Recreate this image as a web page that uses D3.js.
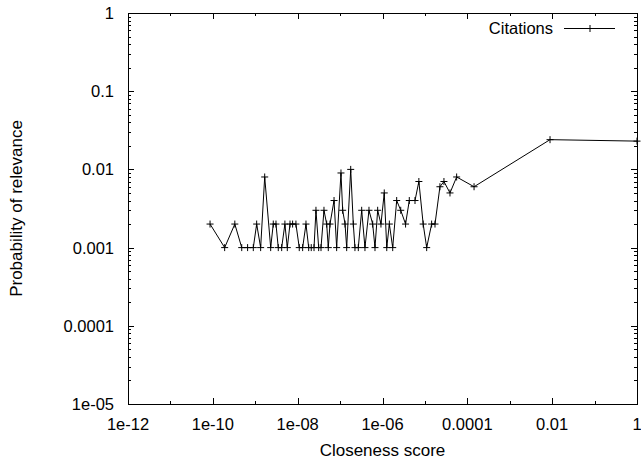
<!DOCTYPE html>
<html>
<head>
<meta charset="utf-8">
<script src="https://cdn.jsdelivr.net/npm/d3@7"></script>
<style>
  body { margin: 0; background: #fff; }
  text { font-family: "Liberation Sans", Arial, sans-serif; fill: #000; }
</style>
</head>
<body>
<svg id="chart" width="641" height="460"></svg>
<script>
// closeness score (x) and probability of relevance (y)
const closeness = [
  8.6e-11, 1.9e-10, 3.3e-10, 4.8e-10, 6.6e-10, 9.0e-10, 1.08e-9, 1.34e-9, 1.67e-9, 2.31e-9,
  2.66e-9, 3.08e-9, 3.49e-9, 4.2e-9, 5.0e-9, 5.7e-9, 6.6e-9, 7.6e-9, 9.1e-9, 1.09e-8,
  1.31e-8, 1.57e-8, 1.82e-8, 2.09e-8, 2.43e-8, 2.7e-8, 3.13e-8, 3.55e-8, 4.17e-8, 4.83e-8,
  5.27e-8, 5.78e-8, 7.2e-8, 8.3e-8, 1.05e-7, 1.15e-7, 1.31e-7, 1.43e-7, 1.78e-7, 2.05e-7,
  2.24e-7, 2.69e-7, 3.23e-7, 3.86e-7, 4.8e-7, 5.87e-7, 6.65e-7, 7.69e-7, 9.2e-7, 1.1e-6,
  1.26e-6, 1.45e-6, 1.74e-6, 2.16e-6, 2.69e-6, 3.5e-6, 4.28e-6, 5.84e-6, 7.2e-6, 9.1e-6,
  1.1e-5, 1.44e-5, 1.73e-5, 2.26e-5, 2.81e-5, 3.9e-5, 5.6e-5, 1.44e-4, 8.9e-3, 1
]
const relevance = [
  0.002, 0.001, 0.002, 0.001, 0.001, 0.001, 0.002, 0.001, 0.008, 0.001,
  0.002, 0.002, 0.001, 0.001, 0.002, 0.001, 0.002, 0.002, 0.002, 0.001,
  0.001, 0.002, 0.001, 0.001, 0.001, 0.003, 0.001, 0.001, 0.003, 0.002,
  0.001, 0.002, 0.004, 0.001, 0.009, 0.003, 0.002, 0.001, 0.01, 0.002,
  0.001, 0.001, 0.003, 0.001, 0.003, 0.002, 0.001, 0.003, 0.002, 0.005,
  0.001, 0.002, 0.001, 0.004, 0.003, 0.002, 0.004, 0.004, 0.007, 0.002,
  0.001, 0.002, 0.002, 0.006, 0.007, 0.005, 0.008, 0.006, 0.024, 0.023
]

const xTickValues = [1e-12, 1e-10, 1e-8, 1e-6, 1e-4, 1e-2, 1]
const xTickLabels = ['1e-12', '1e-10', '1e-08', '1e-06', '0.0001', '0.01', '1']
const yTickValues = [1e-5, 1e-4, 1e-3, 1e-2, 1e-1, 1]
const yTickLabels = ['1e-05', '0.0001', '0.001', '0.01', '0.1', '1']

const plotLeft = 128, plotRight = 637, plotTop = 13, plotBottom = 404

const svg = d3.select('#chart')

const x = d3.scaleLog().domain([1e-12, 1]).range([plotLeft, plotRight])
const y = d3.scaleLog().domain([1e-5, 1]).range([plotBottom, plotTop])

// minor ticks
let xMinor = []
for (let e = -11; e < 0; e += 2) xMinor.push(Math.pow(10, e))
let yMinor = []
for (let e = -5; e < 0; e++) {
  for (let m = 2; m <= 9; m++) yMinor.push(m * Math.pow(10, e))
}

const ticks = svg.append('g').attr('stroke', '#000').attr('stroke-width', 1)

xTickValues.forEach(v => {
  let px = Math.round(x(v)) + 0.5
  ticks.append('line').attr('x1', px).attr('x2', px).attr('y1', plotBottom).attr('y2', plotBottom - 6)
  ticks.append('line').attr('x1', px).attr('x2', px).attr('y1', plotTop).attr('y2', plotTop + 6)
})
xMinor.forEach(v => {
  let px = Math.round(x(v)) + 0.5
  ticks.append('line').attr('x1', px).attr('x2', px).attr('y1', plotBottom).attr('y2', plotBottom - 3)
  ticks.append('line').attr('x1', px).attr('x2', px).attr('y1', plotTop).attr('y2', plotTop + 3)
})
yTickValues.forEach(v => {
  let py = Math.round(y(v)) + 0.5
  ticks.append('line').attr('x1', plotLeft).attr('x2', plotLeft + 6).attr('y1', py).attr('y2', py)
  ticks.append('line').attr('x1', plotRight).attr('x2', plotRight - 6).attr('y1', py).attr('y2', py)
})
yMinor.forEach(v => {
  let py = Math.round(y(v)) + 0.5
  ticks.append('line').attr('x1', plotLeft).attr('x2', plotLeft + 3).attr('y1', py).attr('y2', py)
  ticks.append('line').attr('x1', plotRight).attr('x2', plotRight - 3).attr('y1', py).attr('y2', py)
})

// frame
svg.append('rect')
  .attr('x', plotLeft + 0.5).attr('y', plotTop + 0.5)
  .attr('width', plotRight - plotLeft).attr('height', plotBottom - plotTop)
  .attr('fill', 'none').attr('stroke', '#000').attr('stroke-width', 1)

// tick labels
svg.append('g').selectAll('text').data(xTickValues).join('text')
  .attr('x', d => x(d)).attr('y', plotBottom + 26)
  .attr('text-anchor', 'middle').attr('font-size', 16.5)
  .text((d, i) => xTickLabels[i])

svg.append('g').selectAll('text').data(yTickValues).join('text')
  .attr('x', plotLeft - 14).attr('y', d => y(d) + 6)
  .attr('text-anchor', 'end').attr('font-size', 16.5)
  .text((d, i) => yTickLabels[i])

// axis titles
svg.append('text').attr('x', (plotLeft + plotRight) / 2).attr('y', 456)
  .attr('text-anchor', 'middle').attr('font-size', 17).text('Closeness score')
svg.append('text').attr('transform', `translate(22,${(plotTop + plotBottom) / 2}) rotate(-90)`)
  .attr('text-anchor', 'middle').attr('font-size', 17).text('Probability of relevance')

// data line + markers
const pts = closeness.map((c, i) => [x(c), y(relevance[i])])
svg.append('path')
  .attr('d', d3.line()(pts))
  .attr('fill', 'none').attr('stroke', '#000').attr('stroke-width', 1)

const plus = (g, cx, cy) => {
  g.append('line').attr('x1', cx - 3.5).attr('x2', cx + 3.5).attr('y1', cy).attr('y2', cy)
  g.append('line').attr('x1', cx).attr('x2', cx).attr('y1', cy - 3.5).attr('y2', cy + 3.5)
}
const marks = svg.append('g').attr('stroke', '#000').attr('stroke-width', 1)
pts.forEach(p => plus(marks, p[0], p[1]))

// legend
svg.append('text').attr('x', 553).attr('y', 34)
  .attr('text-anchor', 'end').attr('font-size', 16.5).text('Citations')
const lg = svg.append('g').attr('stroke', '#000').attr('stroke-width', 1)
lg.append('line').attr('x1', 564).attr('x2', 615).attr('y1', 28.5).attr('y2', 28.5)
plus(lg, 590, 28.5)
</script>
</body>
</html>
